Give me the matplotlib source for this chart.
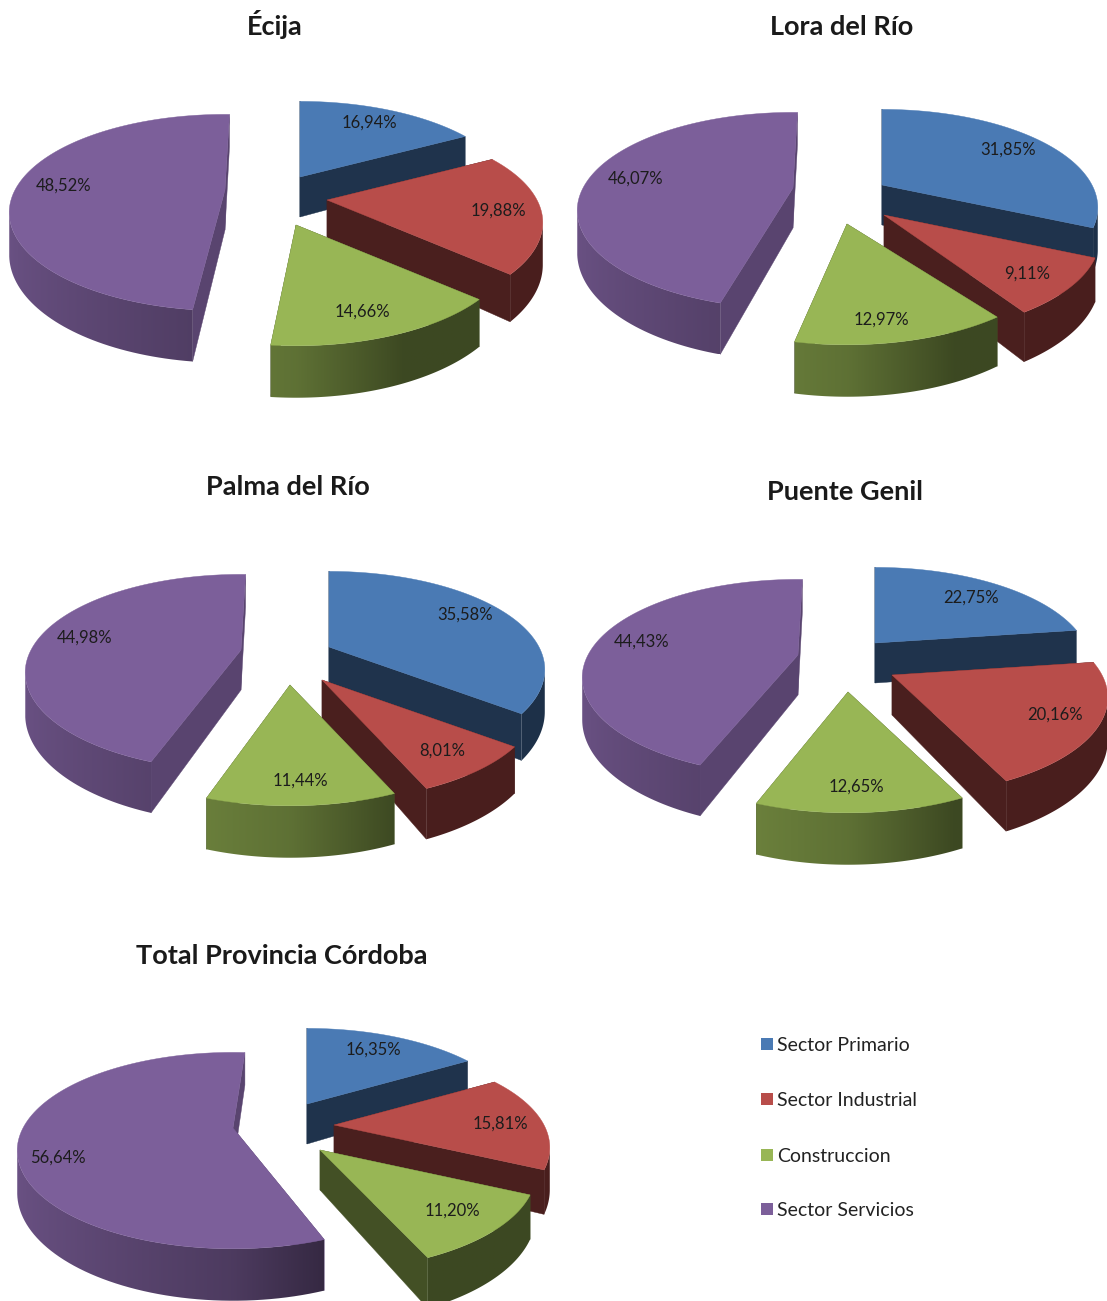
#!/usr/bin/env python3
"""
Five exploded 3D pies of employment by sector, drawn as projected polygons.
"""
import numpy as np
import matplotlib.pyplot as plt
from matplotlib.colors import to_rgb
from matplotlib.patches import Polygon, Rectangle

plt.rcParams['font.family'] = ['Lato', 'DejaVu Sans']

# Data
sectors = ['Sector Primario', 'Sector Industrial', 'Construccion', 'Sector Servicios']
titles = ['Écija', 'Lora del Río', 'Palma del Río', 'Puente Genil', 'Total Provincia Córdoba']
ecija = [16.94, 19.88, 14.66, 48.52]
lora = [31.85, 9.11, 12.97, 46.07]
palma = [35.58, 8.01, 11.44, 44.98]
puente = [22.75, 20.16, 12.65, 44.43]
total = [16.35, 15.81, 11.20, 56.64]
all_values = [ecija, lora, palma, puente, total]

# Layout: title baseline and where each slice's tip ended up, in pixels
title_pos = [(275, 35), (842, 35), (288, 495), (845, 500), (282, 964)]
tips = [
    [(300, 177), (327, 200), (296, 225), (225, 190)],
    [(882, 185), (884, 215), (847, 224), (793, 188)],
    [(329, 647), (322, 680), (290, 685), (241, 650)],
    [(875, 643), (892, 675), (848, 692), (798, 655)],
    [(307, 1104), (334, 1125), (320, 1150), (233, 1128)],
]
# small per-slice turn in degrees, the original slices were dragged by hand
turns = [
    [0, 0, 0, 1.5],
    [0, 0, -3, 1.5],
    [0, 0, 0, 1.5],
    [0, 0, 0, 1.5],
    [0, 0, 0, 4],
]
# label nudges in pixels
nudges = [
    [(-3, 0), (5, 2), (-4, 5), (0, 1)],
    [(0, 0), (3, 5), (-8, 10), (0, 1)],
    [(0, -3), (4, 4), (2, 7), (-1, 1)],
    [(1, 3), (5, 2), (-1, 6), (-1, 1)],
    [(-3, 0), (4, 2), (2, 1), (-9, 19)],
]
colors = ['#4a7ab4', '#b84d4a', '#98b655', '#7c5f9a']
cut_shade = [0.42, 0.40, 0.44, 0.72]
legend_y = [1045, 1100, 1156, 1210]

# Projection constants
AX, BP, CY, DEPTH = 210.0, 0.23, 93.0, 40.0

z = [2]


def next_z():
    z[0] += 1
    return z[0]


def wall_shade(s):
    if s < 0:
        return 0.62 - 0.24 * s
    return max(0.40, 0.62 - 0.55 * s)


def draw_slice(ax, value, start, tip, color, cut, nudge):
    tx, ty = tip
    rgb = np.array(to_rgb(color))
    sweep = value * 3.6
    th = np.radians(np.linspace(start, start + sweep, 120))
    f = 1 + BP * np.cos(th)
    sx = tx + AX * np.sin(th) / f
    sy = ty - CY * np.cos(th) / f
    drop = DEPTH / f

    # cut faces first, then the outer wall, the top goes over both
    c = tuple(rgb * cut)
    for i in (0, -1):
        pts = [(tx, ty), (sx[i], sy[i]), (sx[i], sy[i] + drop[i]), (tx, ty + DEPTH)]
        ax.add_patch(Polygon(pts, fc=c, ec=c, lw=0.3, zorder=next_z()))

    # the wall only shows from the widest point of the ellipse forward
    front = np.cos(th) < -BP
    if front.sum() > 1:
        fx, fy, fd, fs = sx[front], sy[front], drop[front], np.sin(th[front])
        outline = np.vstack([np.column_stack([fx, fy]),
                             np.column_stack([fx, fy + fd])[::-1]])
        clip = Polygon(outline, fc='none', ec='none', zorder=next_z())
        ax.add_patch(clip)
        order = np.argsort(fx)
        cols = np.linspace(fx.min(), fx.max(), 128)
        s = np.interp(cols, fx[order], fs[order])
        strip = np.array([[rgb * wall_shade(v) for v in s]])
        im = ax.imshow(strip, extent=(fx.min(), fx.max(), (fy + fd).max(), fy.min()),
                       aspect='auto', interpolation='bilinear', zorder=next_z())
        im.set_clip_path(clip)

    top = [(tx, ty)] + list(zip(sx, sy))
    ax.add_patch(Polygon(top, fc=color, ec=color, lw=0.3, zorder=next_z()))

    # label inside the top face
    mid = np.radians(start + sweep / 2)
    g = 1 + BP * 0.78 * np.cos(mid)
    lx = tx + AX * 0.78 * np.sin(mid) / g + nudge[0]
    ly = ty - CY * 0.78 * np.cos(mid) / g + nudge[1]
    label = f'{value:.2f}%'.replace('.', ',')
    ax.text(lx, ly, label, ha='center', va='center', fontsize=12, color='#1c1c1c', zorder=100)


fig = plt.figure(figsize=(11.07, 13.01), dpi=100)
ax = fig.add_axes([0, 0, 1, 1])
ax.axis('off')

for values, slice_tips, turn, nudge, title, pos in zip(all_values, tips, turns, nudges, titles, title_pos):
    angles = np.concatenate(([0], np.cumsum(values)[:-1])) * 3.6
    # purple goes first so the rest sit on top of it
    for k in [3, 0, 1, 2]:
        draw_slice(ax, values[k], angles[k] + turn[k], slice_tips[k], colors[k], cut_shade[k], nudge[k])
    ax.text(pos[0], pos[1], title, ha='center', va='baseline', fontsize=19.5,
            fontweight='bold', color='#1a1a1a')

for name, color, y in zip(sectors, colors, legend_y):
    ax.add_patch(Rectangle((761, y - 7), 12, 12, fc=color, ec='none'))
    ax.text(777, y + 0.5, name, ha='left', va='center', fontsize=14, color='#222222')

ax.set_xlim(0, 1107)
ax.set_ylim(1301, 0)
plt.savefig('out.png', dpi=100)
